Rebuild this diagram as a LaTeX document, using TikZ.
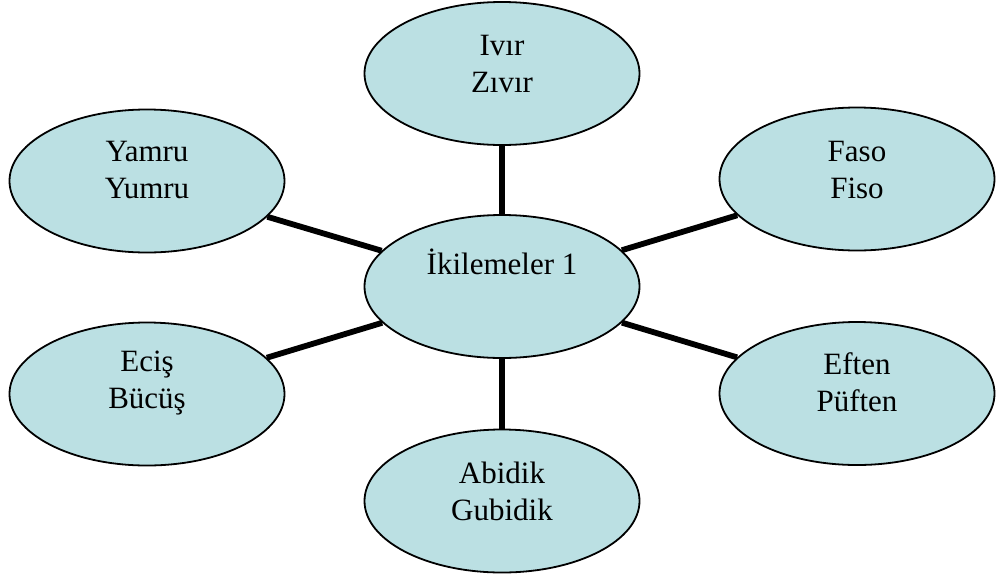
\documentclass[tikz,border=0pt]{standalone}
\usepackage{fontspec}
\setmainfont{Liberation Serif}
\usetikzlibrary{shapes.geometric}
\definecolor{bubble}{RGB}{187,224,227}
\tikzset{
  bub/.style={ellipse, draw=black, line width=1.8pt, fill=bubble, minimum width=275pt, minimum height=143pt, inner sep=0pt},
  txt/.style={align=center, font=\fontsize{31}{37}\selectfont, inner sep=0pt},
  link/.style={line width=5.8pt, black}
}
\begin{document}
\begin{tikzpicture}[x=1pt,y=1pt]
\useasboundingbox (0,0) rectangle (996,-579);
\node[bub] (c) at (502,-286.5) {};
\node[bub] (t) at (502,-73.5) {};
\node[bub] (tl) at (147,-181) {};
\node[bub] (tr) at (857,-179) {};
\node[bub] (bl) at (147,-394) {};
\node[bub] (br) at (857,-393.5) {};
\node[bub] (b) at (502,-501) {};
\draw[link] (c) -- (t);
\draw[link] (c) -- (tl);
\draw[link] (c) -- (tr);
\draw[link] (c) -- (bl);
\draw[link] (c) -- (br);
\draw[link] (c) -- (b);
\node[txt] (ct) at (502,-262) {İkilemeler 1};
\node[txt] (tt) at (502,-64) {Ivır\\Zıvır};
\node[txt] (tlt) at (147,-170) {Yamru\\Yumru};
\node[txt] (trt) at (857,-170) {Faso\\Fiso};
\node[txt] (blt) at (147,-383) {Eciş\\Bücüş};
\node[txt] (brt) at (857,-382) {Eften\\Püften};
\node[txt] (bt) at (502,-491) {Abidik\\Gubidik};
\end{tikzpicture}
\end{document}
